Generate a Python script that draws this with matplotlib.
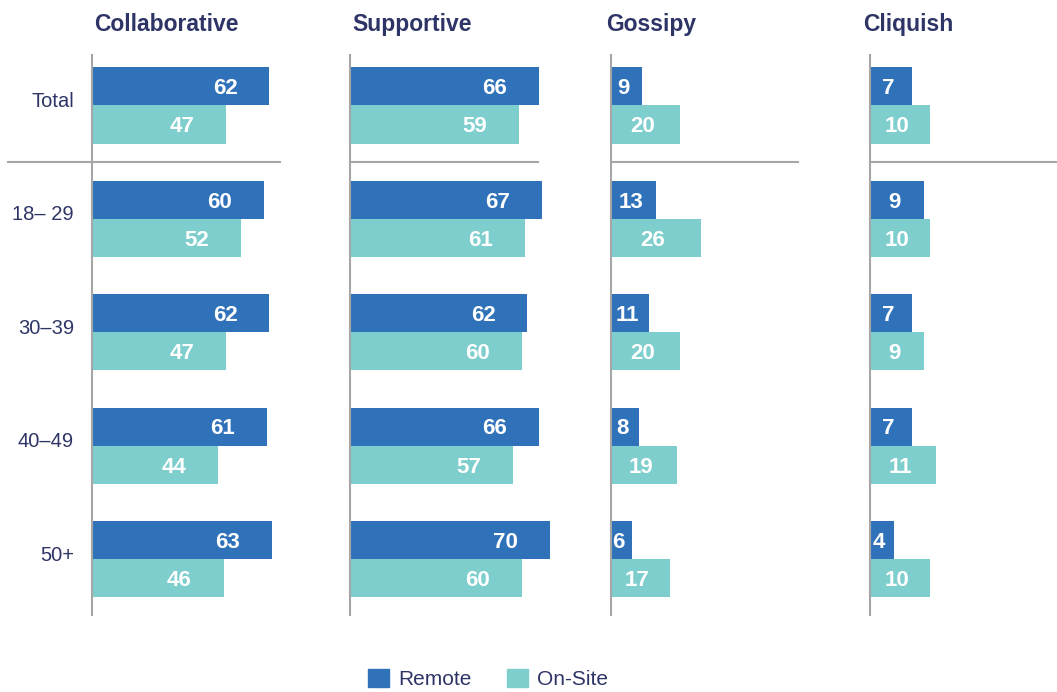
import numpy as np
import matplotlib.pyplot as plt
from matplotlib.patches import Patch
import matplotlib.transforms as mtransforms

# data
groups = ["Total", "18\u2013 29", "30\u201339", "40\u201349", "50+"]
panels = ["Collaborative", "Supportive", "Gossipy", "Cliquish"]
remote = {
    "Collaborative": [62, 60, 62, 61, 63],
    "Supportive": [66, 67, 62, 66, 70],
    "Gossipy": [9, 13, 11, 8, 6],
    "Cliquish": [7, 9, 7, 7, 4],
}
onsite = {
    "Collaborative": [47, 52, 47, 44, 46],
    "Supportive": [59, 61, 60, 57, 60],
    "Gossipy": [20, 26, 20, 19, 17],
    "Cliquish": [10, 10, 9, 11, 10],
}

# style
c_remote = "#2f72b9"
c_onsite = "#7ecece"
navy = "#2e3566"
grey = "#a6a6a6"
plt.rcParams['font.family'] = ['Liberation Sans', 'DejaVu Sans']

W, H = 1057, 692
fig = plt.figure(figsize=(W / 100, H / 100), dpi=100)

lefts = [92, 350, 611, 870]
xmax = [65.7, 65.7, 54.5, 31.5]
sep_left = [8, 350, 611, 870]
sep_right = [280, 538, 798, 1057]
title_dx = [0.01, 0.01, -0.027, -0.037]
ax_w = 188
top_px, bot_px = 55, 615

y = np.arange(len(groups))
bh = 0.335

for k, name in enumerate(panels):
    ax = fig.add_axes([lefts[k] / W, 1 - bot_px / H, ax_w / W, (bot_px - top_px) / H])
    ax.set_xlim(0, xmax[k])
    ax.set_ylim(4.49, -0.445)
    rb = ax.barh(y - bh / 2, remote[name], height=bh, color=c_remote, clip_on=False)
    ob = ax.barh(y + bh / 2, onsite[name], height=bh, color=c_onsite, clip_on=False)

    for bars, vals in ((rb, remote[name]), (ob, onsite[name])):
        for b, v in zip(bars, vals):
            yc = b.get_y() + b.get_height() / 2
            if k < 2:
                ax.annotate(str(v), (v, yc), xytext=(-23, -1.5), textcoords="offset points",
                            ha="right", va="center", color="white", fontsize=16,
                            fontweight="bold", annotation_clip=False)
            else:
                ax.annotate(str(v), (v / 2, yc), xytext=(-2, -1.5), textcoords="offset points",
                            ha="center", va="center", color="white", fontsize=16,
                            fontweight="bold", annotation_clip=False)

    for s in ["top", "right", "bottom"]:
        ax.spines[s].set_visible(False)
    ax.spines["left"].set_color(grey)
    ax.spines["left"].set_linewidth(1.5)
    ax.set_xticks([])
    if k == 0:
        ax.set_yticks(y - 0.055)
        ax.set_yticklabels(groups, fontsize=14.5, color=navy)
        ax.tick_params(axis="y", length=0, pad=13)
    else:
        ax.set_yticks([])

    # separator between Total and age groups
    tr = mtransforms.blended_transform_factory(fig.transFigure, ax.transData)
    ax.plot([sep_left[k] / W, sep_right[k] / W], [0.5, 0.5], transform=tr,
            color=grey, lw=1.5, clip_on=False)

    ax.set_title(name, loc="left", fontsize=16.5, fontweight="bold", color=navy,
                 x=title_dx[k], y=1.0, pad=17)

handles = [Patch(color=c_remote, label="Remote"), Patch(color=c_onsite, label="On-Site")]
leg = fig.legend(handles=handles, loc="center", bbox_to_anchor=(0.462, 0.019), ncol=2,
                 frameon=False, fontsize=15, handlelength=1.0, handleheight=1.0,
                 handletextpad=0.45, columnspacing=1.7, borderpad=0.2)
for t in leg.get_texts():
    t.set_color(navy)

fig.savefig("out.png", dpi=100)
